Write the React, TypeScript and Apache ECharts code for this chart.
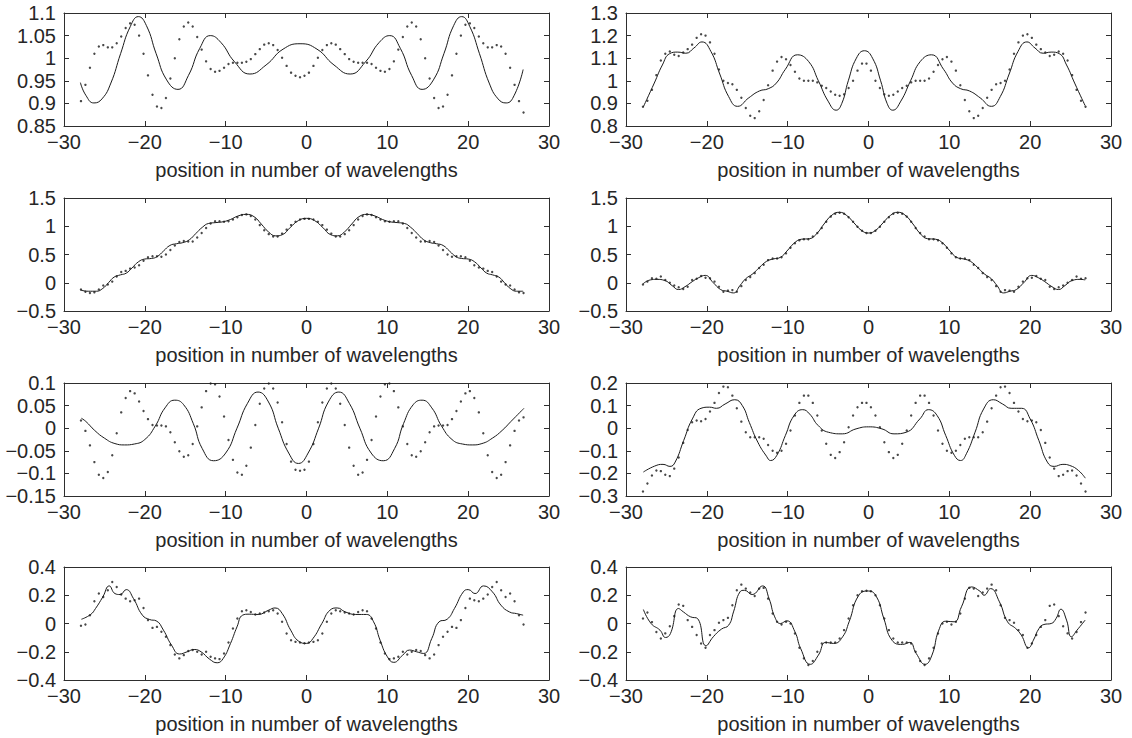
import React, { useEffect, useRef } from "react";
import * as echarts from "echarts";

// Sample positions (in wavelengths) shared by every dotted series.
const SAMPLE_POSITIONS = [
  -27.9, -27.35, -26.79, -26.24, -25.69, -25.14, -24.58, -24.03, -23.48, -22.92,
  -22.37, -21.82, -21.26, -20.71, -20.16, -19.61, -19.05, -18.5, -17.95, -17.39,
  -16.84, -16.29, -15.73, -15.18, -14.63, -14.08, -13.52, -12.97, -12.42, -11.86,
  -11.31, -10.76, -10.2, -9.65, -9.1, -8.55, -7.99, -7.44, -6.89, -6.33,
  -5.78, -5.23, -4.67, -4.12, -3.57, -3.02, -2.46, -1.91, -1.36, -0.8,
  -0.25, 0.3, 0.86, 1.41, 1.96, 2.52, 3.07, 3.62, 4.17, 4.73,
  5.28, 5.83, 6.39, 6.94, 7.49, 8.05, 8.6, 9.15, 9.7, 10.26,
  10.81, 11.36, 11.92, 12.47, 13.02, 13.57, 14.13, 14.68, 15.23, 15.79,
  16.34, 16.89, 17.45, 18.0, 18.55, 19.1, 19.66, 20.21, 20.76, 21.32,
  21.87, 22.42, 22.97, 23.53, 24.08, 24.63, 25.19, 25.74, 26.29, 26.85,
];

const X_AXIS_TITLE = "position in number of wavelengths";

// Row 1, left
const r1LeftCurve: [number, number][] = [
  [-27.97, 0.946], [-27.3, 0.918], [-26.3, 0.901], [-25.3, 0.91], [-24.2, 0.945], [-23.0, 1.01],
  [-21.8, 1.07], [-20.8, 1.092], [-19.8, 1.072], [-18.6, 1.01], [-17.3, 0.952], [-15.9, 0.931],
  [-14.6, 0.962], [-13.2, 1.022], [-11.9, 1.05], [-10.6, 1.035], [-8.9, 0.992], [-7.0, 0.965],
  [-5.0, 0.985], [-2.9, 1.02], [-0.8, 1.032], [1.3, 1.02], [3.4, 0.985], [5.4, 0.965],
  [7.3, 0.992], [9.0, 1.035], [10.3, 1.05], [11.6, 1.022], [13.0, 0.962], [14.3, 0.931],
  [15.7, 0.952], [17.0, 1.01], [18.2, 1.072], [19.2, 1.092], [20.2, 1.07], [21.4, 1.01],
  [22.6, 0.945], [23.7, 0.91], [24.7, 0.901], [25.7, 0.918], [26.8, 0.975],
];
const r1LeftSamples = [
  0.905, 0.941, 0.979, 1.01, 1.026, 1.029, 1.024, 1.024, 1.033, 1.048,
  1.067, 1.077, 1.074, 1.05, 1.01, 0.962, 0.919, 0.893, 0.89, 0.912,
  0.955, 1.0, 1.042, 1.07, 1.079, 1.07, 1.047, 1.019, 0.993, 0.976,
  0.97, 0.972, 0.979, 0.987, 0.99, 0.99, 0.99, 0.992, 0.998, 1.009,
  1.02, 1.03, 1.033, 1.029, 1.018, 1.001, 0.983, 0.968, 0.961, 0.958,
  0.961, 0.968, 0.983, 1.001, 1.018, 1.029, 1.033, 1.03, 1.02, 1.009,
  0.998, 0.992, 0.99, 0.99, 0.99, 0.987, 0.979, 0.972, 0.97, 0.976,
  0.993, 1.019, 1.047, 1.07, 1.079, 1.07, 1.042, 1.0, 0.955, 0.912,
  0.89, 0.893, 0.919, 0.962, 1.01, 1.05, 1.074, 1.077, 1.067, 1.048,
  1.033, 1.024, 1.024, 1.029, 1.026, 1.01, 0.979, 0.941, 0.905, 0.88,
];

// Row 1, right
const r1RightCurve: [number, number][] = [
  [-27.85, 0.885], [-26.5, 0.99], [-25.5, 1.07], [-24.6, 1.12], [-23.6, 1.127], [-22.6, 1.122],
  [-21.6, 1.145], [-20.6, 1.172], [-19.5, 1.13], [-18.4, 1.03], [-17.3, 0.93], [-16.2, 0.887],
  [-14.8, 0.925], [-13.5, 0.955], [-12.4, 0.965], [-11.4, 0.99], [-10.3, 1.05], [-8.8, 1.115],
  [-7.4, 1.085], [-6.2, 1.0], [-5.0, 0.91], [-4.0, 0.87], [-3.3, 0.9], [-2.5, 1.0],
  [-1.5, 1.1], [-0.5, 1.133], [0.5, 1.1], [1.5, 1.0], [2.3, 0.9], [3.0, 0.87],
  [4.0, 0.91], [5.2, 1.0], [6.4, 1.085], [7.8, 1.115], [9.3, 1.05], [10.4, 0.99],
  [11.4, 0.965], [12.5, 0.955], [13.8, 0.925], [15.2, 0.887], [16.3, 0.93], [17.4, 1.03],
  [18.5, 1.13], [19.6, 1.172], [20.6, 1.145], [21.6, 1.122], [22.6, 1.127], [23.6, 1.12],
  [24.5, 1.07], [25.5, 0.99], [26.8, 0.89],
];
const r1RightSamples = [
  0.885, 0.912, 0.96, 1.025, 1.09, 1.12, 1.13, 1.115, 1.11, 1.125,
  1.14, 1.16, 1.19, 1.206, 1.2, 1.17, 1.12, 1.05, 1.0, 0.99,
  0.985, 0.96, 0.925, 0.88, 0.845, 0.835, 0.865, 0.915, 0.98, 1.045,
  1.085, 1.105, 1.095, 1.07, 1.04, 1.01, 1.0, 1.0, 1.0, 0.993,
  0.978, 0.968, 0.953, 0.938, 0.934, 0.94, 0.968, 1.0, 1.045, 1.076,
  1.076, 1.045, 1.0, 0.968, 0.94, 0.934, 0.938, 0.953, 0.968, 0.978,
  0.993, 1.0, 1.0, 1.0, 1.01, 1.04, 1.07, 1.095, 1.105, 1.085,
  1.045, 0.98, 0.915, 0.865, 0.835, 0.845, 0.88, 0.925, 0.96, 0.985,
  0.99, 1.0, 1.05, 1.12, 1.17, 1.2, 1.206, 1.19, 1.16, 1.14,
  1.125, 1.11, 1.115, 1.13, 1.12, 1.09, 1.025, 0.96, 0.912, 0.885,
];

// Row 2, left
const r2LeftCurve: [number, number][] = [
  [-27.95, -0.13], [-27.0, -0.15], [-26.0, -0.15], [-25.2, -0.1], [-24.5, 0.0], [-23.8, 0.1],
  [-23.0, 0.14], [-22.3, 0.17], [-21.6, 0.26], [-20.8, 0.37], [-20.0, 0.42], [-19.2, 0.43],
  [-18.5, 0.46], [-17.7, 0.56], [-16.9, 0.66], [-16.1, 0.69], [-15.3, 0.71], [-14.5, 0.76],
  [-13.7, 0.87], [-12.9, 0.98], [-12.1, 1.05], [-11.2, 1.065], [-10.3, 1.08], [-9.4, 1.12],
  [-8.5, 1.18], [-7.5, 1.21], [-6.5, 1.17], [-5.6, 1.04], [-4.7, 0.9], [-3.8, 0.83],
  [-3.0, 0.85], [-2.0, 0.98], [-1.0, 1.1], [0.0, 1.14], [1.0, 1.1], [2.0, 0.98],
  [3.0, 0.85], [3.8, 0.83], [4.7, 0.9], [5.6, 1.04], [6.5, 1.17], [7.5, 1.21],
  [8.5, 1.18], [9.4, 1.12], [10.3, 1.08], [11.2, 1.065], [12.1, 1.05], [12.9, 0.98],
  [13.7, 0.87], [14.5, 0.76], [15.3, 0.71], [16.1, 0.69], [16.9, 0.66], [17.7, 0.56],
  [18.5, 0.46], [19.2, 0.43], [20.0, 0.42], [20.8, 0.37], [21.6, 0.26], [22.3, 0.17],
  [23.0, 0.14], [23.8, 0.1], [24.5, 0.0], [25.2, -0.1], [26.0, -0.15], [26.8, -0.15],
];
const r2LeftSamples = [
  -0.12, -0.16, -0.18, -0.17, -0.12, -0.05, -0.03, 0.02, 0.11, 0.19,
  0.21, 0.25, 0.27, 0.31, 0.39, 0.45, 0.47, 0.47, 0.46, 0.5,
  0.58, 0.66, 0.72, 0.74, 0.73, 0.73, 0.8, 0.88, 0.97, 1.05,
  1.09, 1.09, 1.08, 1.09, 1.12, 1.16, 1.2, 1.21, 1.18, 1.12,
  1.02, 0.93, 0.86, 0.82, 0.82, 0.87, 0.94, 1.02, 1.08, 1.12,
  1.13, 1.13, 1.12, 1.08, 1.02, 0.94, 0.87, 0.82, 0.82, 0.86,
  0.93, 1.02, 1.12, 1.18, 1.21, 1.2, 1.16, 1.12, 1.09, 1.08,
  1.09, 1.09, 1.05, 0.97, 0.88, 0.8, 0.73, 0.73, 0.74, 0.72,
  0.66, 0.58, 0.5, 0.46, 0.47, 0.47, 0.45, 0.39, 0.31, 0.27,
  0.25, 0.21, 0.19, 0.11, 0.02, -0.03, -0.05, -0.12, -0.17, -0.18,
];

// Row 2, right
const r2RightCurve: [number, number][] = [
  [-27.9, -0.02], [-27.0, 0.05], [-26.2, 0.06], [-25.2, 0.04], [-24.3, -0.05], [-23.5, -0.12],
  [-22.7, -0.07], [-21.8, 0.02], [-21.0, 0.09], [-20.2, 0.13], [-19.2, 0.0], [-18.3, -0.12],
  [-17.5, -0.15], [-16.7, -0.18], [-15.9, -0.05], [-15.2, 0.07], [-14.3, 0.16], [-13.5, 0.27],
  [-12.6, 0.38], [-11.8, 0.42], [-10.9, 0.45], [-10.1, 0.56], [-9.2, 0.7], [-8.3, 0.77],
  [-7.3, 0.78], [-6.4, 0.87], [-5.5, 1.04], [-4.5, 1.2], [-3.6, 1.247], [-2.7, 1.19],
  [-1.8, 1.06], [-0.9, 0.93], [0.0, 0.88], [0.9, 0.93], [1.8, 1.06], [2.7, 1.19],
  [3.6, 1.247], [4.5, 1.2], [5.5, 1.04], [6.4, 0.87], [7.3, 0.78], [8.3, 0.77],
  [9.2, 0.7], [10.1, 0.56], [10.9, 0.45], [11.8, 0.42], [12.6, 0.38], [13.5, 0.27],
  [14.3, 0.16], [15.2, 0.07], [15.9, -0.05], [16.7, -0.18], [17.5, -0.15], [18.3, -0.12],
  [19.2, 0.0], [20.2, 0.13], [21.0, 0.09], [21.8, 0.02], [22.7, -0.07], [23.5, -0.12],
  [24.3, -0.05], [25.2, 0.04], [26.2, 0.06], [26.8, 0.05],
];
const r2RightSamples = [
  -0.03, 0.02, 0.08, 0.07, 0.11, 0.05, 0.0, -0.05, -0.08, -0.11,
  -0.07, 0.05, 0.07, 0.12, 0.09, 0.08, 0.02, -0.07, -0.16, -0.14,
  -0.13, -0.16, -0.06, 0.05, 0.1, 0.17, 0.26, 0.32, 0.4, 0.43,
  0.43, 0.45, 0.52, 0.62, 0.7, 0.75, 0.77, 0.77, 0.82, 0.88,
  0.97, 1.08, 1.17, 1.22, 1.24, 1.22, 1.16, 1.08, 0.99, 0.92,
  0.88, 0.88, 0.92, 0.99, 1.08, 1.16, 1.22, 1.24, 1.22, 1.17,
  1.08, 0.97, 0.88, 0.82, 0.77, 0.77, 0.75, 0.7, 0.62, 0.52,
  0.45, 0.43, 0.43, 0.4, 0.32, 0.26, 0.17, 0.1, 0.05, -0.06,
  -0.16, -0.13, -0.14, -0.16, -0.07, 0.02, 0.08, 0.09, 0.12, 0.07,
  0.05, -0.07, -0.11, -0.08, -0.05, 0.0, 0.05, 0.11, 0.07, 0.08,
];

// Row 3, left
const r3LeftCurve: [number, number][] = [
  [-27.85, 0.022], [-27.3, 0.015], [-26.2, -0.005], [-25.0, -0.022], [-23.7, -0.034], [-22.5, -0.037],
  [-21.3, -0.035], [-20.0, -0.025], [-18.7, 0.005], [-17.5, 0.045], [-16.3, 0.062], [-15.2, 0.052],
  [-14.0, 0.01], [-12.9, -0.045], [-11.5, -0.072], [-10.0, -0.055], [-8.6, 0.0], [-7.3, 0.055],
  [-6.0, 0.08], [-4.7, 0.058], [-3.5, 0.0], [-2.2, -0.055], [-1.0, -0.078], [0.2, -0.055],
  [1.5, 0.0], [2.7, 0.058], [4.0, 0.08], [5.3, 0.055], [6.6, 0.0], [8.0, -0.055],
  [9.5, -0.072], [10.9, -0.045], [12.0, 0.01], [13.2, 0.052], [14.3, 0.062], [15.5, 0.045],
  [16.7, 0.005], [18.0, -0.025], [19.3, -0.035], [20.5, -0.037], [21.7, -0.034], [23.0, -0.022],
  [24.2, -0.005], [25.3, 0.015], [26.9, 0.044],
];
const r3LeftSamples = [
  0.017, -0.006, -0.038, -0.075, -0.103, -0.11, -0.097, -0.06, -0.011, 0.035,
  0.067, 0.082, 0.077, 0.059, 0.038, 0.02, 0.007, 0.006, 0.006, 0.004,
  -0.009, -0.031, -0.051, -0.063, -0.06, -0.035, 0.004, 0.046, 0.082, 0.099,
  0.097, 0.07, 0.026, -0.026, -0.07, -0.098, -0.103, -0.083, -0.043, 0.007,
  0.054, 0.088, 0.099, 0.088, 0.057, 0.013, -0.035, -0.074, -0.092, -0.094,
  -0.092, -0.074, -0.035, 0.013, 0.057, 0.088, 0.099, 0.088, 0.054, 0.007,
  -0.043, -0.083, -0.103, -0.098, -0.07, -0.026, 0.026, 0.07, 0.097, 0.099,
  0.082, 0.046, 0.004, -0.035, -0.06, -0.063, -0.051, -0.031, -0.009, 0.004,
  0.006, 0.006, 0.007, 0.02, 0.038, 0.059, 0.077, 0.082, 0.067, 0.035,
  -0.011, -0.06, -0.097, -0.11, -0.103, -0.075, -0.038, -0.006, 0.017, 0.024,
];

// Row 3, right
const r3RightCurve: [number, number][] = [
  [-27.85, -0.194], [-26.48, -0.168], [-25.42, -0.16], [-24.56, -0.169], [-23.92, -0.15], [-22.86, -0.054],
  [-21.79, 0.041], [-20.72, 0.088], [-19.66, 0.093], [-18.81, 0.088], [-17.74, 0.107], [-16.55, 0.126],
  [-15.61, 0.1], [-14.75, 0.026], [-13.69, -0.062], [-12.62, -0.124], [-12.11, -0.143], [-11.34, -0.12],
  [-10.28, -0.032], [-9.21, 0.056], [-8.14, 0.082], [-7.29, 0.063], [-6.23, 0.012], [-4.95, -0.018],
  [-3.24, -0.025], [-1.54, -0.003], [0.0, 0.006], [1.66, -0.003], [3.16, -0.025], [4.65, -0.018],
  [6.35, 0.041], [7.42, 0.082], [8.49, 0.056], [9.55, -0.032], [10.62, -0.12], [11.39, -0.143],
  [12.11, -0.113], [13.18, -0.018], [14.24, 0.085], [15.44, 0.126], [16.59, 0.107], [17.65, 0.088],
  [18.93, 0.088], [20.0, 0.041], [21.07, -0.054], [22.13, -0.15], [22.98, -0.169], [24.05, -0.16],
  [24.9, -0.165], [25.97, -0.187], [26.82, -0.221],
];
const r3RightSamples = [
  -0.28, -0.245, -0.209, -0.187, -0.19, -0.206, -0.212, -0.179, -0.13, -0.065,
  -0.008, 0.026, 0.034, 0.031, 0.041, 0.074, 0.112, 0.156, 0.184, 0.181,
  0.144, 0.088, 0.029, -0.018, -0.04, -0.04, -0.04, -0.047, -0.074, -0.1,
  -0.109, -0.1, -0.069, -0.01, 0.056, 0.112, 0.144, 0.144, 0.112, 0.056,
  -0.01, -0.069, -0.118, -0.132, -0.106, -0.062, 0.004, 0.056, 0.093, 0.112,
  0.112, 0.093, 0.056, 0.004, -0.062, -0.106, -0.132, -0.118, -0.069, -0.01,
  0.056, 0.112, 0.144, 0.144, 0.112, 0.056, -0.01, -0.069, -0.1, -0.109,
  -0.1, -0.074, -0.047, -0.04, -0.04, -0.04, -0.018, 0.029, 0.088, 0.144,
  0.181, 0.184, 0.156, 0.112, 0.074, 0.041, 0.031, 0.034, 0.026, -0.008,
  -0.065, -0.13, -0.179, -0.212, -0.206, -0.19, -0.187, -0.209, -0.245, -0.28,
];

// Row 4, left
const r4LeftCurve: [number, number][] = [
  [-27.85, 0.03], [-26.7, 0.064], [-26.1, 0.106], [-25.2, 0.188], [-24.4, 0.266], [-23.7, 0.212],
  [-23.07, 0.205], [-22.3, 0.24], [-21.4, 0.176], [-20.3, 0.059], [-19.4, 0.028], [-18.6, 0.019],
  [-17.7, -0.047], [-16.7, -0.153], [-15.7, -0.216], [-14.75, -0.2], [-13.9, -0.184], [-13.05, -0.2],
  [-12.0, -0.252], [-11.05, -0.278], [-10.3, -0.247], [-9.4, -0.141], [-8.6, -0.024], [-7.9, 0.059],
  [-7.1, 0.066], [-6.0, 0.064], [-4.7, 0.094], [-3.9, 0.11], [-3.0, 0.07], [-1.96, -0.047],
  [-0.98, -0.125], [0.0, -0.141], [0.8, -0.106], [1.9, 0.0], [2.9, 0.094], [3.8, 0.11],
  [4.8, 0.082], [6.1, 0.064], [7.4, 0.064], [8.3, 0.012], [9.1, -0.118], [10.0, -0.235],
  [10.8, -0.275], [11.9, -0.224], [12.75, -0.188], [13.6, -0.2], [14.5, -0.212], [15.5, -0.106],
  [16.4, 0.012], [17.4, 0.03], [18.3, 0.106], [19.4, 0.224], [20.0, 0.24], [20.85, 0.212],
  [21.9, 0.266], [23.0, 0.224], [24.05, 0.13], [25.1, 0.082], [26.0, 0.07], [26.8, 0.059],
];
const r4LeftSamples = [
  -0.016, -0.007, 0.059, 0.158, 0.212, 0.188, 0.235, 0.294, 0.259, 0.205,
  0.176, 0.158, 0.165, 0.176, 0.11, 0.024, -0.031, -0.024, -0.059, -0.094,
  -0.153, -0.219, -0.247, -0.224, -0.195, -0.188, -0.2, -0.219, -0.2, -0.235,
  -0.247, -0.252, -0.212, -0.134, -0.035, 0.035, 0.087, 0.094, 0.082, 0.064,
  0.071, 0.078, 0.087, 0.094, 0.071, 0.012, -0.071, -0.118, -0.13, -0.134,
  -0.14, -0.134, -0.13, -0.118, -0.071, 0.012, 0.071, 0.094, 0.087, 0.078,
  0.071, 0.064, 0.082, 0.094, 0.087, 0.035, -0.035, -0.134, -0.212, -0.252,
  -0.247, -0.235, -0.2, -0.219, -0.2, -0.188, -0.195, -0.224, -0.247, -0.219,
  -0.153, -0.094, -0.059, -0.024, -0.031, 0.024, 0.11, 0.176, 0.165, 0.158,
  0.176, 0.205, 0.259, 0.294, 0.235, 0.188, 0.212, 0.158, 0.059, -0.007,
];

// Row 4, right
const r4RightCurve: [number, number][] = [
  [-27.85, 0.099], [-26.9, 0.0], [-25.8, -0.047], [-25.1, -0.099], [-24.5, -0.071], [-23.5, 0.106],
  [-22.9, 0.082], [-22.0, 0.047], [-21.15, 0.035], [-20.1, -0.158], [-19.2, -0.094], [-18.2, -0.04],
  [-17.3, -0.012], [-16.7, 0.082], [-15.9, 0.224], [-15.35, 0.235], [-14.4, 0.205], [-13.1, 0.266],
  [-12.3, 0.176], [-11.6, 0.047], [-10.9, 0.0], [-10.1, 0.019], [-9.1, -0.059], [-8.4, -0.176],
  [-7.2, -0.289], [-6.2, -0.224], [-5.3, -0.134], [-4.3, -0.141], [-3.2, -0.094], [-2.4, 0.012],
  [-1.2, 0.2], [0.0, 0.23], [1.0, 0.188], [1.9, 0.035], [2.9, -0.118], [4.2, -0.148],
  [5.1, -0.134], [5.9, -0.212], [7.0, -0.289], [7.85, -0.224], [8.7, -0.047], [9.55, 0.016],
  [10.6, 0.012], [11.5, 0.118], [12.75, 0.259], [13.8, 0.228], [14.3, 0.2], [15.1, 0.247],
  [16.2, 0.153], [17.2, 0.012], [18.2, -0.035], [18.9, -0.082], [19.8, -0.172], [20.4, -0.118],
  [21.1, -0.035], [21.7, -0.007], [22.6, 0.0], [23.2, 0.035], [23.8, 0.101], [24.5, 0.024],
  [25.1, -0.094], [25.8, -0.047], [26.8, 0.024],
];
const r4RightSamples = [
  0.035, 0.078, 0.01, -0.06, -0.106, -0.07, -0.02, 0.052, 0.134, 0.125,
  0.024, -0.024, -0.082, -0.141, -0.172, -0.082, -0.047, 0.005, 0.024, 0.04,
  0.129, 0.235, 0.275, 0.247, 0.219, 0.195, 0.247, 0.252, 0.176, 0.071,
  0.012, -0.007, 0.012, 0.0, -0.071, -0.172, -0.247, -0.294, -0.266, -0.2,
  -0.141, -0.134, -0.134, -0.134, -0.106, -0.047, 0.035, 0.129, 0.2, 0.228,
  0.232, 0.228, 0.2, 0.129, 0.035, -0.047, -0.106, -0.134, -0.134, -0.134,
  -0.141, -0.2, -0.266, -0.294, -0.247, -0.172, -0.071, 0.0, 0.012, -0.007,
  0.012, 0.071, 0.176, 0.252, 0.247, 0.195, 0.219, 0.247, 0.275, 0.235,
  0.129, 0.04, 0.024, 0.005, -0.047, -0.082, -0.172, -0.141, -0.082, -0.024,
  0.024, 0.125, 0.134, 0.052, -0.02, -0.07, -0.106, -0.06, 0.01, 0.078,
];

type Panel = {
  curve: [number, number][];
  samples: number[];
  yMin: number;
  yMax: number;
  yStep: number;
};

// Panels in reading order: left then right, row by row.
const PANELS: Panel[] = [
  { curve: r1LeftCurve, samples: r1LeftSamples, yMin: 0.85, yMax: 1.1, yStep: 0.05 },
  { curve: r1RightCurve, samples: r1RightSamples, yMin: 0.8, yMax: 1.3, yStep: 0.1 },
  { curve: r2LeftCurve, samples: r2LeftSamples, yMin: -0.5, yMax: 1.5, yStep: 0.5 },
  { curve: r2RightCurve, samples: r2RightSamples, yMin: -0.5, yMax: 1.5, yStep: 0.5 },
  { curve: r3LeftCurve, samples: r3LeftSamples, yMin: -0.15, yMax: 0.1, yStep: 0.05 },
  { curve: r3RightCurve, samples: r3RightSamples, yMin: -0.3, yMax: 0.2, yStep: 0.1 },
  { curve: r4LeftCurve, samples: r4LeftSamples, yMin: -0.4, yMax: 0.4, yStep: 0.2 },
  { curve: r4RightCurve, samples: r4RightSamples, yMin: -0.4, yMax: 0.4, yStep: 0.2 },
];

// Layout of the 4 x 2 grid of axes boxes (pixels).
const COLUMN_LEFT = [64, 626];
const ROW_TOP = [13, 198, 383, 567];
const BOX_WIDTH = 485;
const BOX_HEIGHT = 113;

const FONT = "'Liberation Sans', Arial, Helvetica, sans-serif";
const INK = "#1a1a1a";
const FRAME = "#2e2e2e";
const TEXT = "#262626";

const formatTick = (v: number) => {
  const s = String(Math.round(v * 1000) / 1000);
  return s.replace("-", "\u2212");
};

function buildOption(): echarts.EChartsOption {
  const grid: any[] = [];
  const xAxis: any[] = [];
  const yAxis: any[] = [];
  const series: any[] = [];

  const frameLine = { show: true, onZero: false, lineStyle: { color: FRAME, width: 1 } };
  const tick = { show: true, inside: true, length: 5, lineStyle: { color: FRAME, width: 1 } };

  PANELS.forEach((p, k) => {
    const col = k % 2;
    const row = Math.floor(k / 2);
    grid.push({
      left: COLUMN_LEFT[col],
      top: ROW_TOP[row],
      width: BOX_WIDTH,
      height: BOX_HEIGHT,
      containLabel: false,
    });

    xAxis.push({
      gridIndex: k,
      type: "value",
      position: "bottom",
      min: -30,
      max: 30,
      interval: 10,
      axisLine: frameLine,
      axisTick: tick,
      splitLine: { show: false },
      axisLabel: {
        show: true,
        margin: 6,
        color: TEXT,
        fontSize: 20,
        fontFamily: FONT,
        formatter: formatTick,
        showMinLabel: true,
        showMaxLabel: true,
      },
      name: X_AXIS_TITLE,
      nameLocation: "middle",
      nameGap: 34,
      nameTextStyle: { color: TEXT, fontSize: 20, fontFamily: FONT },
    });
    xAxis.push({
      gridIndex: k,
      type: "value",
      position: "top",
      min: -30,
      max: 30,
      interval: 10,
      axisLine: frameLine,
      axisTick: tick,
      splitLine: { show: false },
      axisLabel: { show: false },
    });

    yAxis.push({
      gridIndex: k,
      type: "value",
      position: "left",
      min: p.yMin,
      max: p.yMax,
      interval: p.yStep,
      axisLine: frameLine,
      axisTick: tick,
      splitLine: { show: false },
      axisLabel: {
        show: true,
        margin: 8,
        color: TEXT,
        fontSize: 20,
        fontFamily: FONT,
        formatter: formatTick,
        showMinLabel: true,
        showMaxLabel: true,
      },
    });
    yAxis.push({
      gridIndex: k,
      type: "value",
      position: "right",
      min: p.yMin,
      max: p.yMax,
      interval: p.yStep,
      axisLine: frameLine,
      axisTick: tick,
      splitLine: { show: false },
      axisLabel: { show: false },
    });

    // Smooth fitted curve through the listed points.
    series.push({
      type: "line",
      xAxisIndex: 2 * k,
      yAxisIndex: 2 * k,
      data: p.curve,
      smooth: 0.5,
      showSymbol: false,
      symbol: "none",
      silent: true,
      lineStyle: { color: INK, width: 1 },
    });
    // Sampled values shown as dots.
    series.push({
      type: "scatter",
      xAxisIndex: 2 * k,
      yAxisIndex: 2 * k,
      data: SAMPLE_POSITIONS.map((x, i) => [x, p.samples[i]]),
      symbol: "circle",
      symbolSize: 2.4,
      silent: true,
      itemStyle: { color: INK },
    });
  });

  return {
    animation: false,
    backgroundColor: "#ffffff",
    grid,
    xAxis,
    yAxis,
    series,
  };
}

export default function App() {
  const ref = useRef<HTMLDivElement | null>(null);

  useEffect(() => {
    if (!ref.current) return;
    const chart = echarts.init(ref.current, undefined, { renderer: "svg" });
    chart.setOption(buildOption());
    return () => {
      chart.dispose();
    };
  }, []);

  return (
    <div
      ref={ref}
      style={{
        position: "fixed",
        left: 0,
        top: 0,
        width: 1132,
        height: 738,
        background: "#ffffff",
      }}
    />
  );
}
